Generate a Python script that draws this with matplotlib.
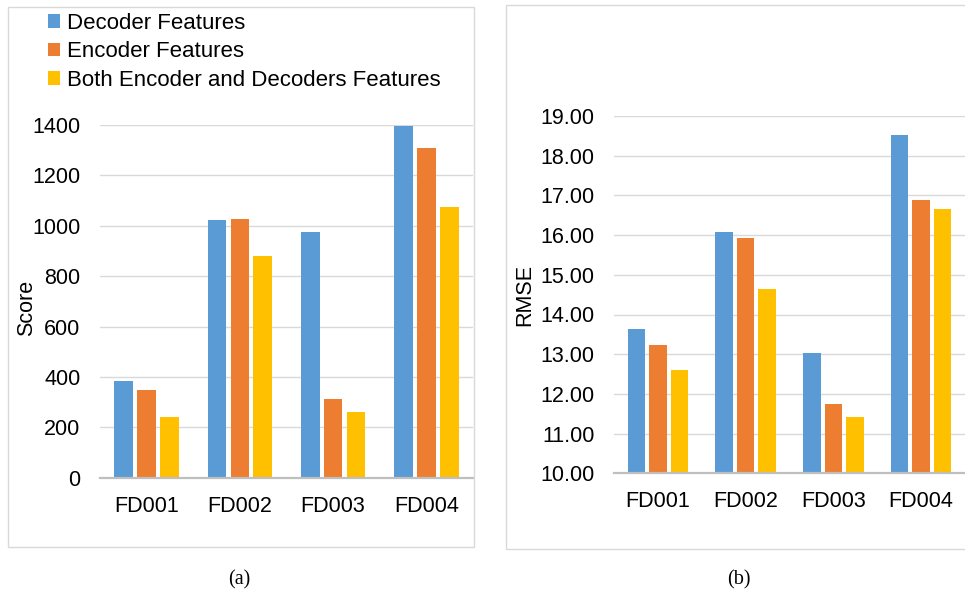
import numpy as np
import matplotlib
matplotlib.use("Agg")
import matplotlib.pyplot as plt
from matplotlib.patches import Rectangle

categories = ['FD001', 'FD002', 'FD003', 'FD004']
series_names = ['Decoder Features', 'Encoder Features',
                'Both Encoder and Decoders Features']

# score values (panel a)
score_decoder = [384, 1022, 974, 1396]
score_encoder = [348, 1027, 312, 1307]
score_both = [242, 879, 262, 1075]

# rmse values (panel b)
rmse_decoder = [13.63, 16.08, 13.03, 18.51]
rmse_encoder = [13.23, 15.93, 11.75, 16.88]
rmse_both = [12.60, 14.63, 11.41, 16.66]

colors = ['#5B9BD5', '#ED7D31', '#FFC000']
grid_c = '#D9D9D9'

plt.rcParams['font.family'] = ['Liberation Sans', 'DejaVu Sans']

W, H = 965, 592
fig = plt.figure(figsize=(W / 100, H / 100), dpi=100)


def px_axes(x0, x1, ytop, ybot):
    return fig.add_axes([x0 / W, 1 - ybot / H, (x1 - x0) / W, (ybot - ytop) / H])


def draw_bars(ax, data, ylim, ticks, fmt):
    x = np.arange(len(categories))
    bars = []
    for i, (vals, c) in enumerate(zip(data, colors)):
        b = ax.bar(x + (i - 1) * 0.245, vals, width=0.2, color=c, zorder=3)
        bars.append(b)
    ax.set_xlim(-0.5, len(categories) - 0.5)
    ax.set_ylim(*ylim)
    ax.set_yticks(ticks)
    ax.set_yticklabels([fmt % t for t in ticks])
    ax.set_xticks(x)
    ax.set_xticklabels(categories)
    ax.tick_params(axis='both', length=0, labelsize=15.5, colors='black')
    ax.tick_params(axis='y', pad=14)
    ax.tick_params(axis='x', pad=13)
    ax.grid(axis='y', color=grid_c, lw=1, zorder=0)
    for s in ['top', 'right', 'left']:
        ax.spines[s].set_visible(False)
    ax.spines['bottom'].set_color('#BFBFBF')
    ax.spines['bottom'].set_linewidth(1.6)
    ax.spines['bottom'].set_zorder(4)
    return bars


# frames around each panel
fig.patches.append(Rectangle((8 / W, 1 - 547 / H), 466 / W, 540 / H,
                             transform=fig.transFigure, fill=False,
                             edgecolor=grid_c, lw=1))
fig.patches.append(Rectangle((506 / W, 1 - 549 / H), 470 / W, 544 / H,
                             transform=fig.transFigure, fill=False,
                             edgecolor=grid_c, lw=1))

# panel (a)
ax1 = px_axes(100, 473, 125, 477.7)
bars = draw_bars(ax1, [score_decoder, score_encoder, score_both],
                 (0, 1400), np.arange(0, 1401, 200), '%d')
fig.text(27 / W, 1 - 308 / H, 'Score', rotation=90, ha='center', va='center',
         fontsize=15.5)
fig.legend(bars, series_names, loc='upper left',
           bbox_to_anchor=(48 / W, 1 - 13 / H), frameon=False,
           fontsize=16, handlelength=0.56, handleheight=0.56,
           handletextpad=0.3, labelspacing=0.33, borderpad=0, borderaxespad=0)

# panel (b)
ax2 = px_axes(614, 965, 116, 473.3)
draw_bars(ax2, [rmse_decoder, rmse_encoder, rmse_both],
          (10, 19), np.arange(10, 19.01, 1), '%.2f')
fig.text(525 / W, 1 - 295 / H, 'RMSE', rotation=90, ha='center', va='center',
         fontsize=15.5)

# captions
fig.text(239 / W, 1 - 580 / H, '(a)', ha='center', va='center',
         fontsize=14.5, family='Liberation Serif')
fig.text(739 / W, 1 - 580 / H, '(b)', ha='center', va='center',
         fontsize=14.5, family='Liberation Serif')

fig.savefig('out.png', dpi=100, facecolor='white')
